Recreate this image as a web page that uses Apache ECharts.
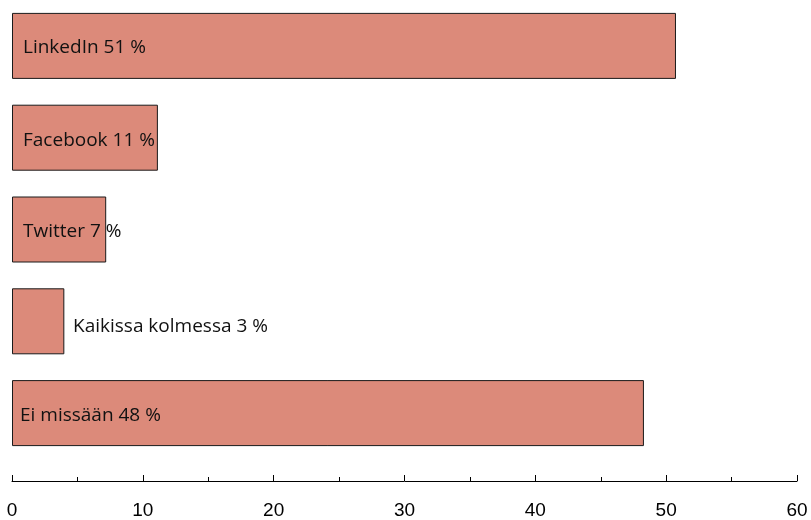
<!DOCTYPE html>
<html>
<head>
<meta charset="utf-8">
<script src="https://cdn.jsdelivr.net/npm/echarts@6/dist/echarts.min.js"></script>
<style>
  html, body { margin: 0; padding: 0; background: #fff; }
  #chart { width: 811px; height: 520px; }
</style>
</head>
<body>
<div id="chart"></div>
<script>
// data
const categories = ["LinkedIn", "Facebook", "Twitter", "Kaikissa kolmessa", "Ei missään"];
const values = [50.75, 11.15, 7.2, 4.0, 48.3];
const shownPercent = [51, 11, 7, 3, 48];
const xTicks = [0, 10, 20, 30, 40, 50, 60];

// label offsets from the bar's left edge / centre (px)
const labelDx = [11, 11, 11, 61, 8];
const labelDy = [2, 3, 2, 5, 2];

const chart = echarts.init(document.getElementById("chart"));

chart.setOption({
  animation: false,
  grid: { left: 12, right: 14, top: 0, bottom: 61 },
  xAxis: {
    type: "value",
    min: xTicks[0],
    max: xTicks[xTicks.length - 1],
    interval: 10,
    offset: 22,
    splitLine: { show: false },
    axisLine: { show: true, lineStyle: { color: "#000", width: 1 } },
    axisTick: { show: true, inside: true, length: 6, lineStyle: { color: "#000" } },
    minorTick: { show: true, splitNumber: 2, length: 4, lineStyle: { color: "#000" } },
    axisLabel: {
      color: "#000",
      fontFamily: "'Liberation Sans', Arial, sans-serif",
      fontSize: 19,
      margin: 20
    }
  },
  yAxis: {
    type: "category",
    inverse: true,
    data: categories,
    show: false
  },
  series: [
    {
      type: "bar",
      barWidth: 66,
      itemStyle: { color: "#DC8A7A", borderColor: "#1a1a1a", borderWidth: 1 },
      data: values.map((v, i) => ({
        value: v,
        label: {
          show: true,
          position: [labelDx[i], "50%"],
          offset: [0, labelDy[i]],
          verticalAlign: "middle",
          formatter: categories[i] + " " + shownPercent[i] + " %",
          color: "#111",
          fontFamily: "'Open Sans', 'Noto Sans', sans-serif",
          fontSize: 19
        }
      }))
    }
  ]
});
</script>
</body>
</html>
